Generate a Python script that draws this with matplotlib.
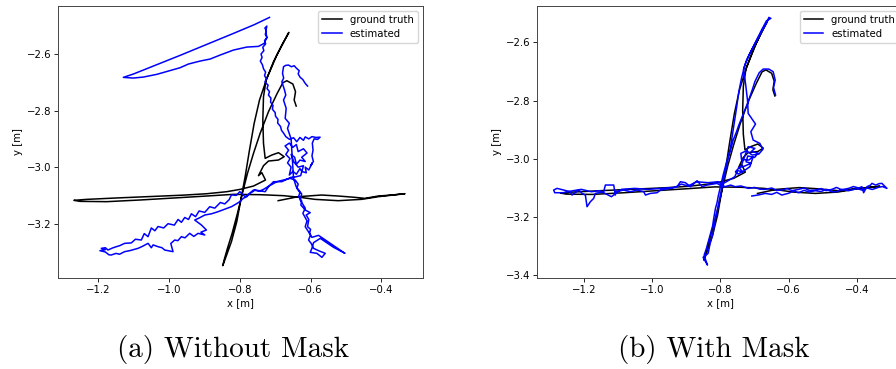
import matplotlib
matplotlib.use("Agg")
import matplotlib.pyplot as plt

# ---------------------------------------------------------------------------
# Ground-truth trajectory (same for both runs), metres, as (x, y) waypoints
# ---------------------------------------------------------------------------
gt_pts = [
    (-0.6406, -2.7839), (-0.6463, -2.7627), (-0.6425, -2.7332), (-0.6500, -2.7061), (-0.6670, -2.6943),
    (-0.6783, -2.7014), (-0.6953, -2.7415), (-0.7189, -2.8039), (-0.7425, -2.8805), (-0.7613, -2.9513),
    (-0.7783, -3.0220), (-0.7915, -3.0868), (-0.8066, -3.1634), (-0.8217, -3.2341), (-0.8349, -3.2872),
    (-0.8443, -3.3284), (-0.8481, -3.3484), (-0.8406, -3.3225), (-0.8236, -3.2636), (-0.8085, -3.1929),
    (-0.7972, -3.1163), (-0.7849, -3.0338), (-0.7726, -2.9395), (-0.7594, -2.8452), (-0.7443, -2.7627),
    (-0.7236, -2.6861), (-0.6953, -2.6036), (-0.6613, -2.5234), (-0.6811, -2.5682), (-0.7047, -2.6271),
    (-0.7255, -2.6920), (-0.7330, -2.7509), (-0.7349, -2.8334), (-0.7330, -2.9159), (-0.7283, -2.9689),
    (-0.7094, -2.9571), (-0.6906, -2.9489), (-0.6745, -2.9630), (-0.6906, -2.9748), (-0.7189, -2.9784),
    (-0.7330, -2.9949), (-0.7472, -3.0302), (-0.7377, -3.0196), (-0.7273, -3.0455), (-0.7613, -3.0668),
    (-0.7991, -3.0786), (-0.8368, -3.0868), (-0.8934, -3.0940), (-0.9594, -3.0990), (-1.0538, -3.1040),
    (-1.1481, -3.1090), (-1.2330, -3.1140), (-1.2689, -3.1174), (-1.2519, -3.1210), (-1.1764, -3.1221),
    (-1.0821, -3.1162), (-0.9877, -3.1092), (-0.8934, -3.1021), (-0.8179, -3.0962), (-0.7425, -3.0974),
    (-0.6764, -3.1009), (-0.6293, -3.1068), (-0.5878, -3.1139), (-0.5217, -3.1186), (-0.4557, -3.1139),
    (-0.4085, -3.1045), (-0.3330, -3.0939), (-0.3708, -3.0986), (-0.4085, -3.1021), (-0.4462, -3.1104),
    (-0.4745, -3.1068), (-0.5217, -3.1021), (-0.5689, -3.0986), (-0.6349, -3.1045), (-0.6915, -3.1186),
]

# ---------------------------------------------------------------------------
# Estimated trajectory, run without mask
# ---------------------------------------------------------------------------
est_a_top = [
    (-0.7160, -2.4704), (-0.7377, -2.4833), (-0.7594, -2.4963), (-0.8179, -2.5270), (-0.8934, -2.5659),
    (-0.9688, -2.6047), (-1.0443, -2.6425), (-1.1009, -2.6707), (-1.1292, -2.6825), (-1.1009, -2.6849),
    (-1.0726, -2.6814), (-1.0349, -2.6719), (-1.0019, -2.6601), (-0.9688, -2.6484), (-0.9453, -2.6354),
    (-0.9123, -2.6248), (-0.8840, -2.6177), (-0.8557, -2.6036), (-0.8179, -2.5859), (-0.7802, -2.5753),
    (-0.7472, -2.5729), (-0.7311, -2.5623), (-0.7236, -2.5411), (-0.7264, -2.5211), (-0.7236, -2.5010),
]
est_a_descent = [
    (-0.7290, -2.5080), (-0.7250, -2.5180), (-0.7280, -2.5300), (-0.7230, -2.5420), (-0.7300, -2.5520),
    (-0.7270, -2.5640), (-0.7350, -2.5760), (-0.7320, -2.5880), (-0.7400, -2.6000), (-0.7370, -2.6120),
    (-0.7420, -2.6250), (-0.7360, -2.6380), (-0.7330, -2.6520), (-0.7270, -2.6640), (-0.7300, -2.6760),
    (-0.7250, -2.6880), (-0.7290, -2.6990), (-0.7200, -2.7100), (-0.7230, -2.7220), (-0.7160, -2.7330),
    (-0.7190, -2.7450), (-0.7120, -2.7560), (-0.7130, -2.7700), (-0.7060, -2.7820), (-0.7080, -2.7950),
    (-0.7000, -2.8070), (-0.6990, -2.8200), (-0.6920, -2.8310), (-0.6930, -2.8440), (-0.6850, -2.8560),
    (-0.6820, -2.8700), (-0.6760, -2.8800), (-0.6700, -2.8920), (-0.6594, -2.9018),
]
est_a_cluster = [
    (-0.6480, -2.8960), (-0.6390, -2.9100), (-0.6300, -2.8950), (-0.6200, -2.9050), (-0.6150, -2.8930),
    (-0.6050, -2.9000), (-0.5960, -2.8920), (-0.5850, -2.8950), (-0.5730, -2.8940), (-0.5800, -2.9020),
    (-0.5900, -2.9000), (-0.5950, -2.9150), (-0.5930, -2.9400), (-0.5960, -2.9600), (-0.5920, -2.9800),
    (-0.6000, -2.9950), (-0.5950, -2.9850), (-0.6050, -3.0100), (-0.6150, -3.0000), (-0.6120, -3.0200),
    (-0.6250, -3.0150), (-0.6300, -3.0050), (-0.6400, -3.0250), (-0.6500, -3.0150), (-0.6600, -3.0280),
    (-0.6550, -3.0000), (-0.6650, -2.9850), (-0.6580, -2.9700), (-0.6700, -2.9550), (-0.6620, -2.9400),
    (-0.6720, -2.9250), (-0.6600, -2.9150), (-0.6500, -2.9300), (-0.6400, -2.9200), (-0.6350, -2.9450),
    (-0.6200, -2.9350), (-0.6100, -2.9500), (-0.6250, -2.9650), (-0.6150, -2.9800), (-0.6300, -2.9750),
    (-0.6400, -2.9900), (-0.6450, -2.9650), (-0.6550, -2.9550), (-0.6480, -2.9800), (-0.6350, -3.0000),
    (-0.6200, -2.9950), (-0.6280, -3.0300), (-0.6450, -3.0350), (-0.6557, -3.0361),
    (-0.6811, -3.0514), (-0.7047, -3.0514), (-0.7189, -3.0691), (-0.7283, -3.0868), (-0.7566, -3.0809),
    (-0.7708, -3.0927), (-0.7849, -3.1045),
]
est_a_southwest = [
    (-0.8000, -3.0868), (-0.8100, -3.1000), (-0.8236, -3.0980), (-0.8300, -3.1150), (-0.8424, -3.1300),
    (-0.8550, -3.1250), (-0.8707, -3.1450), (-0.8850, -3.1400), (-0.8990, -3.1600), (-0.9150, -3.1550),
    (-0.9250, -3.1750), (-0.9368, -3.1650), (-0.9450, -3.1850), (-0.9556, -3.1780), (-0.9650, -3.1950),
    (-0.9745, -3.1850), (-0.9850, -3.2050), (-1.0028, -3.2000), (-1.0150, -3.2150), (-1.0311, -3.2100),
    (-1.0400, -3.2250), (-1.0500, -3.2150), (-1.0594, -3.2459), (-1.0700, -3.2350), (-1.0783, -3.2577),
    (-1.0950, -3.2550), (-1.1066, -3.2680), (-1.1255, -3.2695), (-1.1400, -3.2780), (-1.1491, -3.2813),
    (-1.1600, -3.2860), (-1.1726, -3.2931), (-1.1800, -3.2850), (-1.1915, -3.2872), (-1.1800, -3.2920),
    (-1.1953, -3.2954), (-1.1800, -3.3000), (-1.1700, -3.3100), (-1.1632, -3.3107), (-1.1500, -3.3050),
    (-1.1400, -3.3080), (-1.1255, -3.2989), (-1.1100, -3.2950), (-1.0877, -3.2872), (-1.0750, -3.2800),
    (-1.0594, -3.2695), (-1.0500, -3.2850), (-1.0450, -3.2750), (-1.0311, -3.2813), (-1.0200, -3.2850),
    (-1.0123, -3.2931), (-0.9887, -3.2989), (-0.9950, -3.2700), (-0.9840, -3.2577), (-0.9750, -3.2600),
    (-0.9651, -3.2459), (-0.9550, -3.2500), (-0.9415, -3.2341), (-0.9300, -3.2450), (-0.9179, -3.2341),
    (-0.8990, -3.2400), (-0.9100, -3.2300), (-0.8943, -3.2223), (-0.9085, -3.2046), (-0.9274, -3.1870),
    (-0.9150, -3.1800), (-0.8990, -3.1693), (-0.8800, -3.1650), (-0.8613, -3.1575), (-0.8450, -3.1500),
    (-0.8236, -3.1398), (-0.8100, -3.1300), (-0.8000, -3.1221), (-0.7900, -3.1100), (-0.7802, -3.1045),
    (-0.7700, -3.0900), (-0.7613, -3.0809), (-0.7450, -3.0850), (-0.7330, -3.0786), (-0.7150, -3.0650),
    (-0.6953, -3.0514), (-0.6575, -3.0396),
]
est_a_southeast = [
    (-0.6434, -3.0455), (-0.6350, -3.0600), (-0.6387, -3.0750), (-0.6300, -3.0900), (-0.6340, -3.1045),
    (-0.6250, -3.1200), (-0.6274, -3.1339), (-0.6151, -3.1516), (-0.6009, -3.1610), (-0.6123, -3.1693),
    (-0.6050, -3.1850), (-0.6085, -3.2105), (-0.6000, -3.2200), (-0.6028, -3.2341), (-0.5962, -3.2483),
    (-0.5774, -3.2412), (-0.5028, -3.3048), (-0.5349, -3.2836), (-0.5726, -3.2518), (-0.5915, -3.2671),
    (-0.5962, -3.2872), (-0.6009, -3.3013), (-0.5821, -3.3048), (-0.5679, -3.3190), (-0.5585, -3.3048),
    (-0.5774, -3.2954), (-0.5915, -3.2872), (-0.5980, -3.2700), (-0.6057, -3.2577), (-0.6000, -3.2400),
    (-0.6151, -3.2105), (-0.6100, -3.1900), (-0.6217, -3.1634), (-0.6150, -3.1450), (-0.6293, -3.1163),
    (-0.6250, -3.0950), (-0.6406, -3.0691), (-0.6481, -3.0396),
]
est_a_loop = [
    (-0.6550, -2.9000), (-0.6651, -2.8628), (-0.6600, -2.8450), (-0.6717, -2.8275), (-0.6689, -2.7921),
    (-0.6764, -2.7627), (-0.6700, -2.7450), (-0.6736, -2.7273), (-0.6811, -2.6979), (-0.6760, -2.6850),
    (-0.6792, -2.6684), (-0.6764, -2.6448), (-0.6700, -2.6400), (-0.6623, -2.6389), (-0.6540, -2.6450),
    (-0.6462, -2.6413), (-0.6400, -2.6500), (-0.6321, -2.6590), (-0.6350, -2.6700), (-0.6293, -2.6825),
    (-0.6220, -2.6900), (-0.6151, -2.7037), (-0.6085, -2.7132),
]

# ---------------------------------------------------------------------------
# Estimated trajectory, run with mask
# ---------------------------------------------------------------------------
est_b_vertical = [
    (-0.6386, -2.7808), (-0.6445, -2.7545), (-0.6396, -2.7293), (-0.6455, -2.7007), (-0.6582, -2.6916),
    (-0.6748, -2.6916), (-0.6865, -2.7042), (-0.6993, -2.7351), (-0.7060, -2.7600), (-0.7139, -2.7866),
    (-0.7200, -2.8100), (-0.7286, -2.8323), (-0.7380, -2.8600), (-0.7462, -2.8839), (-0.7540, -2.9100),
    (-0.7628, -2.9353), (-0.7680, -2.9600), (-0.7746, -2.9811), (-0.7844, -3.0212), (-0.7922, -3.0555),
    (-0.7990, -3.0898), (-0.8069, -3.1299), (-0.8100, -3.1500), (-0.8147, -3.1699), (-0.8205, -3.2100),
    (-0.8230, -3.2300), (-0.8264, -3.2444), (-0.8342, -3.2787), (-0.8411, -3.3073), (-0.8478, -3.3302),
    (-0.8440, -3.3451), (-0.8381, -3.3646), (-0.8509, -3.3382), (-0.8362, -3.3245), (-0.8303, -3.2901),
    (-0.8215, -3.2558), (-0.8166, -3.2157), (-0.8088, -3.1757), (-0.8019, -3.1356), (-0.7951, -3.0956),
    (-0.7892, -3.0612), (-0.7824, -3.0269), (-0.7780, -3.0000), (-0.7726, -2.9754), (-0.7658, -2.9239),
    (-0.7620, -2.8950), (-0.7580, -2.8667), (-0.7521, -2.8186), (-0.7462, -2.7694), (-0.7420, -2.7450),
    (-0.7384, -2.7236), (-0.7286, -2.6778), (-0.7139, -2.6378), (-0.6973, -2.6011), (-0.6797, -2.5634),
    (-0.6651, -2.5348), (-0.6582, -2.5142), (-0.6523, -2.5176), (-0.6651, -2.5256), (-0.6787, -2.5554),
    (-0.6934, -2.5897), (-0.7130, -2.6355), (-0.7227, -2.6584), (-0.7325, -2.6927),
]
est_b_cluster = [
    (-0.7266, -2.7408), (-0.7208, -2.7980), (-0.7188, -2.8438), (-0.6973, -2.8804), (-0.7110, -2.9067),
    (-0.7042, -2.9353), (-0.6846, -2.9468), (-0.6758, -2.9674), (-0.6875, -2.9834), (-0.7071, -2.9868),
    (-0.7237, -2.9720), (-0.7403, -2.9811), (-0.7384, -3.0017), (-0.7169, -3.0040), (-0.7042, -2.9926),
    (-0.7139, -3.0269), (-0.7306, -3.0406), (-0.7482, -3.0521), (-0.7560, -3.0441), (-0.7384, -3.0212),
    (-0.7188, -2.9582), (-0.6993, -2.9640), (-0.7100, -2.9750), (-0.6900, -2.9800), (-0.7000, -2.9950),
    (-0.7200, -2.9900), (-0.7250, -3.0100), (-0.7100, -3.0150), (-0.7300, -3.0250), (-0.7450, -3.0300),
    (-0.7350, -3.0450), (-0.7500, -3.0400), (-0.7580, -3.0612), (-0.7824, -3.0784), (-0.8019, -3.0898),
]
est_b_west = [
    (-0.8098, -3.0841), (-0.8391, -3.0898), (-0.8538, -3.0956), (-0.8685, -3.0750), (-0.8880, -3.0956),
    (-0.9027, -3.0818), (-0.9174, -3.0784), (-0.9272, -3.0956), (-0.9467, -3.1013), (-0.9760, -3.1070),
    (-0.9858, -3.1162), (-1.0054, -3.1185), (-1.0200, -3.1242), (-1.0249, -3.1128), (-1.0445, -3.1070),
    (-1.0640, -3.1128), (-1.0836, -3.1070), (-1.1081, -3.1128), (-1.1081, -3.1242), (-1.1130, -3.0898),
    (-1.1374, -3.0898), (-1.1423, -3.1128), (-1.1667, -3.1185), (-1.1717, -3.1356), (-1.1814, -3.1471),
    (-1.1912, -3.1642), (-1.1961, -3.1242), (-1.2059, -3.1185), (-1.2157, -3.1070), (-1.2352, -3.1242),
    (-1.2401, -3.1128), (-1.2597, -3.1070), (-1.2792, -3.1013), (-1.2890, -3.1070), (-1.2860, -3.1162),
    (-1.2616, -3.1162), (-1.2323, -3.1093), (-1.2078, -3.1047), (-1.1785, -3.1128), (-1.1540, -3.1093),
    (-1.1198, -3.1299), (-1.0905, -3.1047), (-1.0514, -3.1013), (-1.0122, -3.1047), (-0.9731, -3.1013),
    (-0.9340, -3.0979), (-0.9145, -3.0864), (-0.8949, -3.0933), (-0.8704, -3.0784), (-0.8362, -3.0818),
    (-0.8069, -3.0784), (-0.7873, -3.0956),
]
est_b_east = [
    (-0.7700, -3.0900), (-0.7570, -3.0956), (-0.7400, -3.0930), (-0.7179, -3.1013), (-0.7000, -3.0980),
    (-0.6850, -3.1040), (-0.6689, -3.1047), (-0.6500, -3.1000), (-0.6350, -3.1080), (-0.6201, -3.1070),
    (-0.6050, -3.1020), (-0.5900, -3.1090), (-0.5711, -3.1047), (-0.5550, -3.1000), (-0.5400, -3.1080),
    (-0.5222, -3.1070), (-0.5050, -3.1020), (-0.4900, -3.1090), (-0.4733, -3.1047), (-0.4600, -3.0980),
    (-0.4450, -3.1060), (-0.4245, -3.1013), (-0.4100, -3.0950), (-0.3950, -3.1000), (-0.3854, -3.0956),
    (-0.3804, -3.1162), (-0.3707, -3.0956), (-0.3600, -3.0900), (-0.3560, -3.0841), (-0.3450, -3.0900),
    (-0.3350, -3.0850), (-0.3267, -3.0841), (-0.3120, -3.1013), (-0.3250, -3.0950), (-0.3374, -3.0979),
    (-0.3550, -3.1050), (-0.3700, -3.1000), (-0.3854, -3.1070), (-0.4000, -3.1020), (-0.4245, -3.1093),
    (-0.4450, -3.1050), (-0.4600, -3.1130), (-0.4733, -3.1128), (-0.4900, -3.1050), (-0.5050, -3.1120),
    (-0.5222, -3.1093), (-0.5400, -3.1140), (-0.5550, -3.1080), (-0.5711, -3.1162), (-0.5850, -3.1100),
    (-0.6000, -3.1180), (-0.6201, -3.1242), (-0.6350, -3.1150), (-0.6500, -3.1220), (-0.6689, -3.1185),
    (-0.6850, -3.1230), (-0.7081, -3.1276),
]

est_a_pts = est_a_top + est_a_descent + est_a_cluster + est_a_southwest + est_a_southeast + est_a_loop
est_b_pts = est_b_vertical + est_b_cluster + est_b_west + est_b_east

captions = ["(a) Without Mask", "(b) With Mask"]
caption_x_px = [233, 714]
xlims = [(-1.313, -0.283), (-1.337, -0.262)]
ylims = [(-3.391, -2.429), (-3.408, -2.474)]
axes_x_px = [(58.3, 422.7), (537.3, 904.0)]

W, H = 896, 369
fig = plt.figure(figsize=(W / 100, H / 100), dpi=100)

fs = 7.3
top_px, bot_px = 5.7, 277.7
gx, gy = zip(*gt_pts)
for i, est in enumerate([est_a_pts, est_b_pts]):
    l_px, r_px = axes_x_px[i]
    ax = fig.add_axes([l_px / W, 1 - bot_px / H, (r_px - l_px) / W, (bot_px - top_px) / H])
    ex, ey = zip(*est)
    ax.plot(gx, gy, color="black", lw=1.1, label="ground truth")
    ax.plot(ex, ey, color="blue", lw=1.1, label="estimated")
    ax.set_xlim(*xlims[i])
    ax.set_ylim(*ylims[i])
    ax.set_xlabel("x [m]", fontsize=fs, labelpad=2.5)
    ax.set_ylabel("y [m]", fontsize=fs, labelpad=2.5)
    ax.tick_params(labelsize=fs, width=0.6, length=2.6, pad=2.5)
    for s in ax.spines.values():
        s.set_linewidth(0.7)
        s.set_color("#444444")
    ax.legend(loc="upper right", fontsize=fs, handlelength=1.9, borderpad=0.4,
              labelspacing=0.4, framealpha=0.8)
    fig.text(caption_x_px[i] / W, 1 - 349 / H, captions[i], family="cmr10",
             fontsize=21, ha="center", va="center")

fig.savefig("out.png", dpi=100)
